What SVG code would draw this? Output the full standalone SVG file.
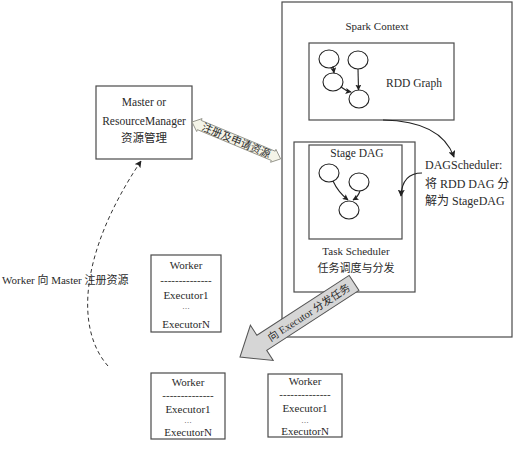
<svg xmlns="http://www.w3.org/2000/svg" width="515" height="450" viewBox="0 0 515 450">
<style>
  text { font-family: "Liberation Serif", "Noto Sans CJK SC", serif; fill: #2a2a2a; }
  .box { fill: #ffffff; stroke: #4a4a4a; stroke-width: 1.2; }
  .c { fill: #ffffff; stroke: #222; stroke-width: 1.1; }
  .ln { fill: none; stroke: #222; stroke-width: 1.1; }
  .m { text-anchor: middle; }
  .f11 { font-size: 11px; }
  .f115 { font-size: 11.5px; }
  .f12 { font-size: 12px; }
  .dots { font-size: 7.5px; text-anchor: middle; }
</style>
<defs>
  <marker id="ah" viewBox="0 0 10 10" refX="9" refY="5" markerWidth="7" markerHeight="7" orient="auto" markerUnits="userSpaceOnUse">
    <path d="M0,0 L10,5 L0,10 L2,5 z" fill="#222"/>
  </marker>
  <marker id="ahs" viewBox="0 0 10 10" refX="9" refY="5" markerWidth="6" markerHeight="6" orient="auto" markerUnits="userSpaceOnUse">
    <path d="M0,0 L10,5 L0,10 L2,5 z" fill="#222"/>
  </marker>
</defs>
<rect width="515" height="450" fill="#ffffff"/>

<g id="spark-context">
  <rect class="box" x="282" y="2" width="230" height="335"/>
  <text class="m f11" x="377" y="30">Spark Context</text>
</g>

<g id="rdd-graph">
  <rect class="box" x="309" y="43" width="145" height="77"/>
  <text class="m f115" x="414" y="87">RDD Graph</text>
  <ellipse class="c" cx="329" cy="59" rx="10" ry="9"/>
  <ellipse class="c" cx="358" cy="60" rx="10" ry="9"/>
  <ellipse class="c" cx="333" cy="82" rx="10" ry="9"/>
  <ellipse class="c" cx="359" cy="99" rx="10" ry="9"/>
  <path class="ln" d="M333,66 L334,73" marker-end="url(#ahs)"/>
  <path class="ln" d="M358,69 L358.5,90" marker-end="url(#ahs)"/>
  <path class="ln" d="M341,87 Q346,91 351,92" marker-end="url(#ahs)"/>
</g>

<g id="task-scheduler">
  <rect class="box" x="294" y="142" width="121" height="150"/>
  <text class="m f11" x="356" y="255">Task Scheduler</text>
  <text class="m f11" x="356" y="272">任务调度与分发</text>
</g>

<g id="stage-dag">
  <rect class="box" x="309" y="145" width="93" height="94"/>
  <text class="m f115" x="357" y="157">Stage DAG</text>
  <ellipse class="c" cx="329" cy="173" rx="10" ry="9"/>
  <ellipse class="c" cx="359" cy="182" rx="10" ry="9"/>
  <ellipse class="c" cx="349" cy="210" rx="10" ry="9"/>
  <path class="ln" d="M333,181 Q338,192 348,200" marker-end="url(#ahs)"/>
  <path class="ln" d="M360,191 Q358,197 353,200" marker-end="url(#ahs)"/>
</g>

<g id="dagscheduler-note">
  <text class="f12" x="425" y="169">DAGScheduler:</text>
  <text class="f12" x="425" y="188">将 RDD DAG 分</text>
  <text class="f12" x="425" y="205">解为 StageDAG</text>
</g>

<g id="master">
  <rect class="box" x="96" y="86" width="96" height="73"/>
  <text class="m f115" x="144" y="106">Master or</text>
  <text class="m f115" x="144" y="125">ResourceManager</text>
  <text class="m f115" x="144" y="142">资源管理</text>
</g>

<g id="worker-1">
  <rect class="box" x="151" y="255" width="70" height="77"/>
  <text class="m f11" x="186" y="269">Worker</text>
  <text class="m f11" x="186" y="284">--------------</text>
  <text class="m f11" x="186" y="299">Executor1</text>
  <text class="dots" x="186" y="309">…</text>
  <text class="m f11" x="186" y="328">ExecutorN</text>
</g>

<g id="worker-2">
  <rect class="box" x="151" y="373" width="74" height="66"/>
  <text class="m f11" x="188" y="386">Worker</text>
  <text class="m f11" x="188" y="399">--------------</text>
  <text class="m f11" x="188" y="413">Executor1</text>
  <text class="dots" x="188" y="423">…</text>
  <text class="m f11" x="188" y="436">ExecutorN</text>
</g>

<g id="worker-3">
  <rect class="box" x="268" y="374" width="74" height="63"/>
  <text class="m f11" x="305" y="385">Worker</text>
  <text class="m f11" x="305" y="398">--------------</text>
  <text class="m f11" x="305" y="412">Executor1</text>
  <text class="dots" x="305" y="423">…</text>
  <text class="m f11" x="305" y="435">ExecutorN</text>
</g>

<g id="connectors">
  <path class="ln" d="M383,120 Q441,121 454,157" marker-end="url(#ah)"/>
  <path class="ln" d="M422,173 Q402,173 401,196" marker-end="url(#ah)"/>
  <path d="M108,366 C76,330 78,255 141,161" fill="none" stroke="#333" stroke-width="1" stroke-dasharray="4,3" marker-end="url(#ah)"/>
  <text class="f11" x="2" y="284">Worker 向 Master 注册资源</text>
  <g transform="translate(192,122) rotate(22.6)">
    <polygon points="0,0 8,-7 8,-5 88,-5 88,-7 96,0 88,7 88,5 8,5 8,7" fill="#f4f4e8" stroke="#8a8a80" stroke-width="0.8"/>
    <text class="m" x="48" y="3.8" font-size="10.5">注册及申请资源</text>
  </g>
  <g transform="translate(240,357) rotate(-33)">
    <polygon points="0,0 26,-21 26,-9 136,-9 136,9 26,9 26,21" fill="#d6d6d6" stroke="#555" stroke-width="1"/>
    <text class="m" x="82" y="4" font-size="10.5">向 Executor 分发任务</text>
  </g>
</g>
</svg>
